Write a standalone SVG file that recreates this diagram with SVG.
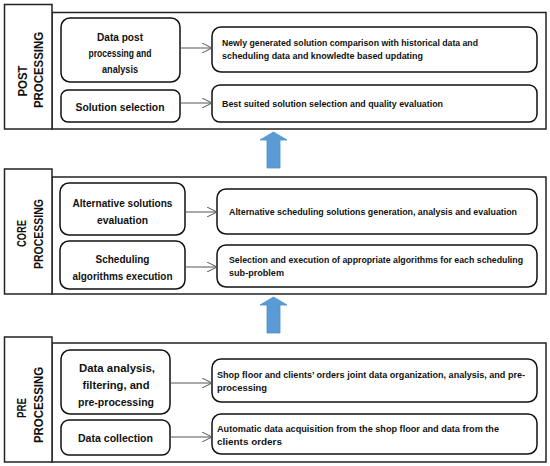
<svg xmlns="http://www.w3.org/2000/svg" width="550" height="466" viewBox="0 0 550 466">
<style>
.frame{fill:#fff;stroke:#222;stroke-width:1.5}
.node{fill:#fff;stroke:#111;stroke-width:1.5}
.side{font-family:"Liberation Sans",Arial,sans-serif;font-weight:bold;font-size:13px;fill:#111;text-anchor:middle}
.lt{font-family:"Liberation Sans",Arial,sans-serif;font-weight:bold;font-size:10.5px;fill:#111;text-anchor:middle}
.lt2{font-family:"Liberation Sans",Arial,sans-serif;font-weight:bold;font-size:11.5px;fill:#111;text-anchor:middle}
.rt{font-family:"Liberation Sans",Arial,sans-serif;font-weight:bold;font-size:9.5px;fill:#111}
.conn{stroke:#555;stroke-width:1;fill:none}
.big{fill:#5b9bd5;stroke:#4f8fcb;stroke-width:0.8}
</style>
<defs>
<marker id="open" viewBox="0 0 10 10" refX="10" refY="5" markerWidth="10" markerHeight="10" markerUnits="userSpaceOnUse" orient="auto">
<path d="M0,0 L10,5 L0,10" fill="none" stroke="#555" stroke-width="1"/>
</marker>
</defs>
<rect width="550" height="466" fill="#fff"/>

<!-- POST -->
<g id="post-section">
<rect class="frame" x="52" y="12.5" width="494" height="116.5"/>
<rect class="frame" x="4.5" y="4.5" width="47.5" height="124.5"/>
<text class="side" transform="translate(27,81) rotate(-90)" textLength="31" lengthAdjust="spacingAndGlyphs">POST</text>
<text class="side" transform="translate(43,70) rotate(-90)" textLength="76" lengthAdjust="spacingAndGlyphs">PROCESSING</text>
</g>
<g id="post-analysis">
<rect class="node" x="61" y="18" width="119" height="64" rx="9"/>
<text class="lt" x="120" y="41" textLength="46" lengthAdjust="spacingAndGlyphs">Data post</text>
<text class="lt" x="120" y="57" textLength="63" lengthAdjust="spacingAndGlyphs">processing and</text>
<text class="lt" x="120" y="73" textLength="36" lengthAdjust="spacingAndGlyphs">analysis</text>
</g>
<g id="post-selection">
<rect class="node" x="61" y="90" width="119" height="32" rx="7"/>
<text class="lt" x="120" y="111" textLength="89" lengthAdjust="spacingAndGlyphs">Solution selection</text>
</g>
<g id="post-comparison">
<rect class="node" x="212" y="27" width="325" height="45" rx="9"/>
<text class="rt" x="222" y="46" textLength="256" lengthAdjust="spacingAndGlyphs">Newly generated solution comparison with historical data and</text>
<text class="rt" x="222" y="58.5" textLength="201" lengthAdjust="spacingAndGlyphs">scheduling data and knowledte based updating</text>
</g>
<g id="post-quality">
<rect class="node" x="212" y="85" width="325" height="37" rx="8"/>
<text class="rt" x="222" y="107" textLength="221" lengthAdjust="spacingAndGlyphs">Best suited solution selection and quality evaluation</text>
</g>

<!-- CORE -->
<g id="core-section">
<rect class="frame" x="52" y="177" width="494" height="117"/>
<rect class="frame" x="4.5" y="169" width="47.5" height="125"/>
<text class="side" transform="translate(26,233.5) rotate(-90)" textLength="27" lengthAdjust="spacingAndGlyphs">CORE</text>
<text class="side" transform="translate(43,234) rotate(-90)" textLength="70" lengthAdjust="spacingAndGlyphs">PROCESSING</text>
</g>
<g id="core-evaluation">
<rect class="node" x="60" y="183" width="125" height="52" rx="9"/>
<text class="lt" x="122.5" y="207" textLength="100" lengthAdjust="spacingAndGlyphs">Alternative solutions</text>
<text class="lt" x="122.5" y="224" textLength="51" lengthAdjust="spacingAndGlyphs">evaluation</text>
</g>
<g id="core-execution">
<rect class="node" x="60" y="241" width="125" height="48" rx="9"/>
<text class="lt" x="122.5" y="263" textLength="54" lengthAdjust="spacingAndGlyphs">Scheduling</text>
<text class="lt" x="122.5" y="280" textLength="100" lengthAdjust="spacingAndGlyphs">algorithms execution</text>
</g>
<g id="core-generation">
<rect class="node" x="217" y="189" width="320" height="45" rx="9"/>
<text class="rt" x="229" y="215" textLength="288" lengthAdjust="spacingAndGlyphs">Alternative scheduling solutions generation, analysis and evaluation</text>
</g>
<g id="core-algorithms">
<rect class="node" x="217" y="245" width="320" height="42" rx="9"/>
<text class="rt" x="229" y="263" textLength="294" lengthAdjust="spacingAndGlyphs">Selection and execution of appropriate algorithms for each scheduling</text>
<text class="rt" x="229" y="275.5" textLength="55" lengthAdjust="spacingAndGlyphs">sub-problem</text>
</g>

<!-- PRE -->
<g id="pre-section">
<rect class="frame" x="52" y="343" width="494" height="119"/>
<rect class="frame" x="4.5" y="337" width="47.5" height="125"/>
<text class="side" transform="translate(26,408) rotate(-90)" textLength="20" lengthAdjust="spacingAndGlyphs">PRE</text>
<text class="side" transform="translate(43,405) rotate(-90)" textLength="76" lengthAdjust="spacingAndGlyphs">PROCESSING</text>
</g>
<g id="pre-analysis">
<rect class="node" x="61" y="350" width="109" height="64" rx="9"/>
<text class="lt2" x="117" y="372" textLength="76" lengthAdjust="spacingAndGlyphs">Data analysis,</text>
<text class="lt2" x="116" y="389" textLength="67" lengthAdjust="spacingAndGlyphs">filtering, and</text>
<text class="lt2" x="116" y="406" textLength="76" lengthAdjust="spacingAndGlyphs">pre-processing</text>
</g>
<g id="pre-collection">
<rect class="node" x="61" y="420" width="109" height="35" rx="8"/>
<text class="lt2" x="115.5" y="442" textLength="75" lengthAdjust="spacingAndGlyphs">Data collection</text>
</g>
<g id="pre-organization">
<rect class="node" x="212" y="359" width="325" height="43" rx="9"/>
<text class="rt" x="217" y="378" textLength="308" lengthAdjust="spacingAndGlyphs">Shop floor and clients’ orders joint data organization, analysis, and pre-</text>
<text class="rt" x="217" y="391" textLength="50" lengthAdjust="spacingAndGlyphs">processing</text>
</g>
<g id="pre-acquisition">
<rect class="node" x="212" y="414" width="325" height="40" rx="9"/>
<text class="rt" x="217" y="432" textLength="282" lengthAdjust="spacingAndGlyphs">Automatic data acquisition from the shop floor and data from the</text>
<text class="rt" x="217" y="444.5" textLength="65" lengthAdjust="spacingAndGlyphs">clients orders</text>
</g>

<!-- connectors -->
<g id="connectors">
<line class="conn" x1="180" y1="48" x2="212" y2="48" marker-end="url(#open)"/>
<line class="conn" x1="180" y1="103" x2="212" y2="103" marker-end="url(#open)"/>
<line class="conn" x1="185" y1="212" x2="217" y2="212" marker-end="url(#open)"/>
<line class="conn" x1="185" y1="267" x2="217" y2="267" marker-end="url(#open)"/>
<line class="conn" x1="170" y1="383" x2="212" y2="383" marker-end="url(#open)"/>
<line class="conn" x1="170" y1="437" x2="212" y2="437" marker-end="url(#open)"/>
<polygon class="big" points="273.5,132 287,140 280,140 280,168 267,168 267,140 260,140"/>
<polygon class="big" points="273.5,297 287,305 280,305 280,333 267,333 267,305 260,305"/>
</g>
</svg>
